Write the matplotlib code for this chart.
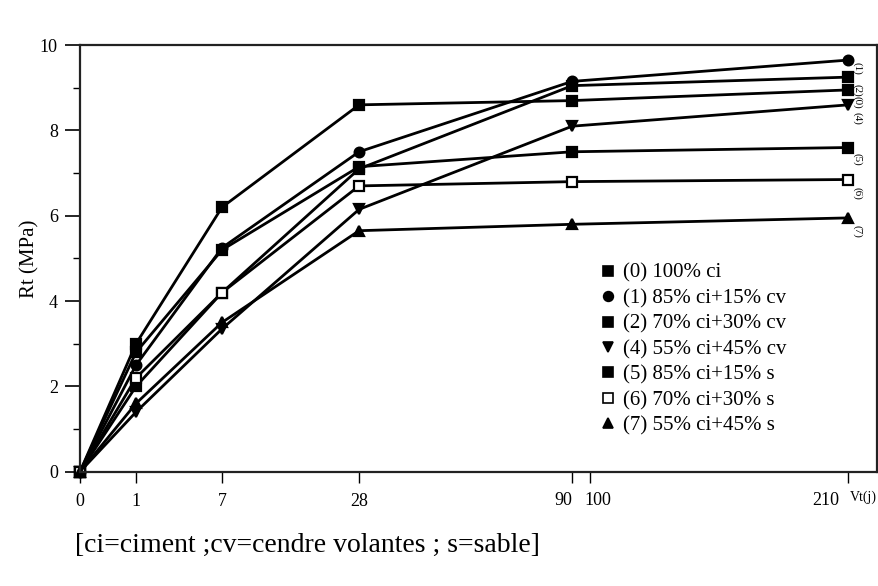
import numpy as np
import matplotlib
matplotlib.use("Agg")
import matplotlib.pyplot as plt
from matplotlib.lines import Line2D

plt.rcParams['font.family'] = ['Liberation Serif', 'DejaVu Serif']

# Age (days) and tensile strength Rt (MPa) for each mix
days = [0, 1, 7, 28, 90, 210]
rt_100ci = [0, 3.0, 6.2, 8.6, 8.7, 8.95]
rt_85ci_15cv = [0, 2.5, 5.25, 7.5, 9.15, 9.65]
rt_70ci_30cv = [0, 2.0, 4.2, 7.1, 9.05, 9.25]
rt_55ci_45cv = [0, 1.4, 3.35, 6.15, 8.1, 8.6]
rt_85ci_15s = [0, 2.8, 5.2, 7.15, 7.5, 7.6]
rt_70ci_30s = [0, 2.2, 4.2, 6.7, 6.8, 6.85]
rt_55ci_45s = [0, 1.6, 3.5, 5.65, 5.8, 5.95]

series_ids = ['(0)', '(1)', '(2)', '(4)', '(5)', '(6)', '(7)']
series_names = ['100% ci', '85% ci+15% cv', '70% ci+30% cv', '55% ci+45% cv',
                '85% ci+15% s', '70% ci+30% s', '55% ci+45% s']
series_values = [rt_100ci, rt_85ci_15cv, rt_70ci_30cv, rt_55ci_45cv,
                 rt_85ci_15s, rt_70ci_30s, rt_55ci_45s]
markers = ['s', 'o', 's', 'v', 's', 's', '^']
filled = [True, True, True, True, True, False, True]
# offsets (pixels) of the small ids written at the right end of each curve
label_offsets = [(9, -12), (9, -8), (9, -13), (9, -14), (9, -12), (9, -14), (9, -14)]

x_ticks = [0, 1, 7, 28, 90, 100, 210]
# the crowded labels are written beside their tick (offset in pixels)
x_label_shift = {90: -9, 100: 8, 210: -23}

# the time axis of the original is stretched by hand (roughly square-root)
scale_days = [0, 1, 7, 28, 90, 100, 210, 240]
scale_pos = [0, 56, 142, 279, 492, 510, 768, 838]


def fwd(x):
    return np.interp(x, scale_days, scale_pos)


def inv(u):
    return np.interp(u, scale_pos, scale_days)


fig = plt.figure(figsize=(8.79, 5.86), dpi=100)
ax = fig.add_axes([0.091, 0.195, 0.907, 0.728])
ax.set_xscale('function', functions=(fwd, inv))

for vals, mk, fl, sid, off in zip(series_values, markers, filled, series_ids, label_offsets):
    ax.plot(days, vals, color='black', lw=2.0, marker=mk, ms=7,
            mfc='black' if fl else 'white', mec='black', mew=1.6, clip_on=False)
    ax.annotate(sid, xy=(days[-1], vals[-1]), xytext=off, textcoords='offset pixels',
                fontsize=8, rotation=-90, va='center', ha='center')

ax.set_xlim(0, 222.4)
ax.set_ylim(0, 10)
ax.set_xticks(x_ticks)
ax.set_xticklabels(['' if t in x_label_shift else str(t) for t in x_ticks], fontsize=13)
for t, dx in x_label_shift.items():
    ax.annotate(str(t), xy=(t, 0), xycoords=ax.get_xaxis_transform(),
                xytext=(dx, -20), textcoords='offset pixels',
                fontsize=13, ha='center', va='top')
ax.set_yticks([0, 2, 4, 6, 8, 10])
ax.set_yticks([1, 3, 5, 7, 9], minor=True)
ax.tick_params(axis='y', which='major', direction='out', length=11, width=1.2, labelsize=13, pad=5)
ax.tick_params(axis='y', which='minor', direction='out', length=5, width=1)
ax.tick_params(axis='x', direction='out', length=8, width=1, pad=7)
for s in ax.spines.values():
    s.set_linewidth(1.6)
    s.set_color('#222222')

ax.set_ylabel('Rt (MPa)', fontsize=15, labelpad=0)
ax.text(1.0, -0.045, 'Vt(j)', transform=ax.transAxes, fontsize=10, ha='right', va='top')

handles = [Line2D([], [], ls='none', marker=mk, ms=7, color='black',
                  mfc='black' if fl else 'white', mew=1.2) for mk, fl in zip(markers, filled)]
labels = [sid + ' ' + name for sid, name in zip(series_ids, series_names)]
ax.legend(handles, labels, loc='lower left', bbox_to_anchor=(0.655, 0.085), frameon=False,
          fontsize=15, handlelength=0.6, handletextpad=0.4, labelspacing=0.28,
          borderaxespad=0, borderpad=0)

fig.text(0.085, 0.07, '[ci=ciment ;cv=cendre volantes ; s=sable]', fontsize=20, va='center')

fig.savefig('out.png', dpi=100)
